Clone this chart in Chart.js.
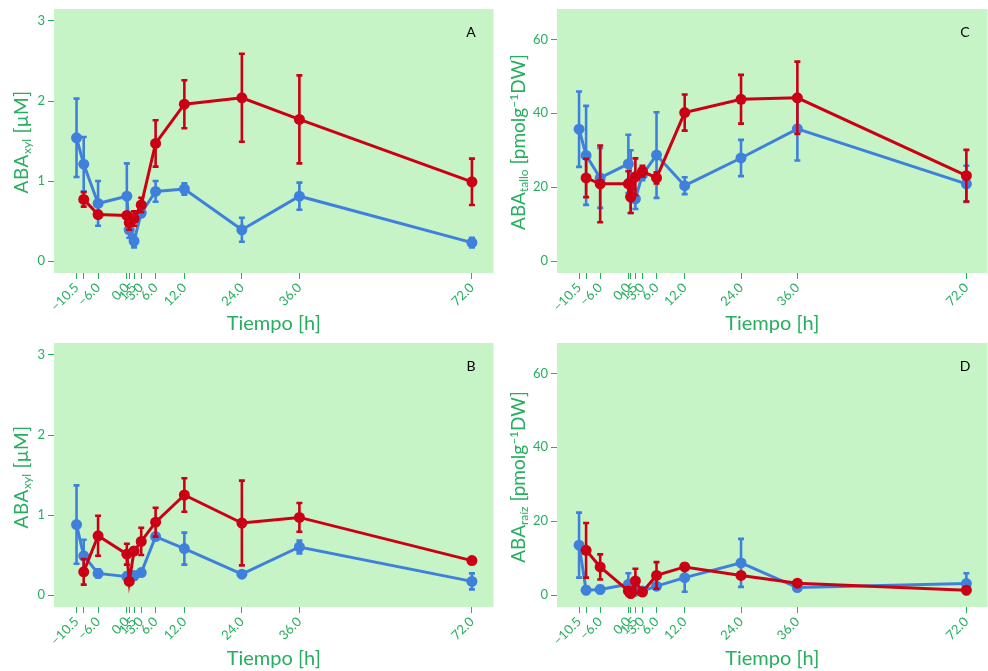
<!DOCTYPE html>
<html><head><meta charset="utf-8">
<script src="https://cdn.jsdelivr.net/npm/chart.js@4"></script>
<style>
html,body{margin:0;padding:0;background:#fff;width:988px;height:671px;overflow:hidden;font-family:Lato,sans-serif}
canvas{position:absolute}
.ytitle{position:absolute;transform:translate(-50%,-50%) rotate(-90deg);white-space:nowrap;color:#27ae60;font-size:19px;font-family:Lato,sans-serif;letter-spacing:0.6px}
.ytitle.dw{letter-spacing:0}
.ytitle sub{font-size:12px;vertical-align:-3px;letter-spacing:0}
.ytitle sup{font-size:12px;vertical-align:7px;letter-spacing:0}
.letter{position:absolute;font-size:14px;color:#000;transform:translate(-50%,-50%);font-family:Lato,sans-serif}
</style></head><body>
<canvas id="cA" width="499" height="336" style="left:0;top:0"></canvas>
<canvas id="cC" width="499" height="336" style="left:494px;top:0"></canvas>
<canvas id="cB" width="499" height="336" style="left:0;top:335px"></canvas>
<canvas id="cD" width="499" height="336" style="left:494px;top:335px"></canvas>
<div class="ytitle" style="left:21px;top:142px">ABA<sub>xyl</sub> [μM]</div>
<div class="ytitle dw" style="left:518px;top:142px">ABA<sub>tallo</sub> [pmolg<sup>−1</sup>DW]</div>
<div class="ytitle" style="left:21px;top:477px">ABA<sub>xyl</sub> [μM]</div>
<div class="ytitle dw" style="left:518px;top:477px">ABA<sub>raíz</sub> [pmolg<sup>−1</sup>DW]</div>
<div class="letter" style="left:471px;top:31px">A</div>
<div class="letter" style="left:965px;top:31px">C</div>
<div class="letter" style="left:471px;top:365px">B</div>
<div class="letter" style="left:965px;top:365px">D</div>
<script>
// ---- data ----
const times = [-10.5, -9, -6, 0, 0.5, 1.5, 3, 6, 12, 24, 36, 72];
const xTickLabels = ['−10.5', '', '−6.0', '0.0', '', '1.5', '3.0', '6.0', '12.0', '24.0', '36.0', '72.0'];
const yTicksXyl = [0, 1, 2, 3];
const yTicksDW = [0, 20, 40, 60];

// Panel A (ABA xyl)
const blueA    = [1.54, 1.21, 0.72, 0.81, 0.39, 0.25, 0.60, 0.87, 0.90, 0.39, 0.81, 0.23];
const blueAErr = [0.49, 0.34, 0.28, 0.41, 0.10, 0.08, 0.05, 0.13, 0.07, 0.15, 0.17, 0.06];
const redA     = [null, 0.77, 0.58, 0.57, 0.48, 0.53, 0.70, 1.47, 1.96, 2.04, 1.77, 0.99];
const redAErr  = [null, 0.09, 0.03, 0.03, 0.09, 0.09, 0.09, 0.29, 0.30, 0.55, 0.55, 0.29];

// Panel B (ABA xyl)
const blueB    = [0.88, 0.49, 0.27, 0.23, 0.22, 0.24, 0.28, 0.73, 0.58, 0.26, 0.60, 0.17];
const blueBErr = [0.49, 0.20, 0.05, 0.05, 0.05, 0.05, 0.03, 0.04, 0.20, 0.03, 0.08, 0.10];
const redB     = [null, 0.29, 0.74, 0.51, 0.17, 0.55, 0.67, 0.91, 1.25, 0.90, 0.97, 0.43];
const redBErr  = [null, 0.16, 0.25, 0.13, 0.02, 0.04, 0.17, 0.18, 0.21, 0.53, 0.18, 0.02];

// Panel C (ABA tallo)
const blueC    = [35.7, 28.6, 22.5, 26.3, 21.5, 16.8, 23.4, 28.7, 20.4, 27.9, 35.8, 20.9];
const blueCErr = [10.2, 13.4, 8.1, 7.9, 8.5, 2.7, 1.5, 11.6, 2.3, 4.9, 8.6, 4.9];
const redC     = [null, 22.5, 20.9, 20.9, 17.3, 22.8, 24.3, 22.5, 40.2, 43.8, 44.2, 23.1];
const redCErr  = [null, 5.2, 10.4, 3.4, 4.3, 5.0, 1.5, 1.5, 4.9, 6.6, 9.8, 7.0];

// Panel D (ABA raíz)
const blueD    = [13.5, 1.3, 1.5, 2.9, 1.5, 1.0, 1.1, 2.4, 4.7, 8.7, 2.0, 3.1];
const blueDErr = [8.8, 1.0, 1.0, 3.0, 1.0, 0.8, 0.6, 0.8, 3.8, 6.5, 0.6, 2.8];
const redD     = [null, 12.1, 7.6, 1.1, 0.4, 3.8, 0.8, 5.3, 7.6, 5.3, 3.2, 1.3];
const redDErr  = [null, 7.4, 3.4, 1.0, 0.5, 3.3, 0.5, 3.6, 0.5, 0.8, 0.5, 0.3];

// ---- styling ----
const GREEN = '#27ae60';
const BG = '#c7f4c7';
const BLUE = '#3f80dc';
const RED = '#cc0014';
Chart.defaults.font.family = 'Lato, sans-serif';

function pts(vals, errs) {
  const d = [], e = [];
  vals.forEach((v, i) => { if (v !== null) { d.push({x: times[i], y: v}); e.push(errs[i]); } });
  return {d, e};
}

const bgPlugin = {
  id: 'bg',
  beforeDraw(chart) {
    const a = chart.chartArea, ctx = chart.ctx;
    ctx.save(); ctx.fillStyle = BG; ctx.fillRect(a.left, a.top, a.right - a.left, a.bottom - a.top); ctx.restore();
  }
};
const errPlugin = {
  id: 'err',
  beforeDatasetDraw(chart, args) {
    const ds = chart.data.datasets[args.index];
    const ys = chart.scales.y, ctx = chart.ctx;
    ctx.save();
    ctx.strokeStyle = ds.borderColor; ctx.lineWidth = 2.6; ctx.lineCap = 'butt';
    ds.errs.forEach((e, i) => {
      const p = ds.data[i], el = args.meta.data[i];
      if (!e) return;
      const x = el.x, yt = ys.getPixelForValue(p.y + e), yb = ys.getPixelForValue(p.y - e);
      ctx.beginPath();
      ctx.moveTo(x, yt); ctx.lineTo(x, yb);
      ctx.moveTo(x - 3, yt); ctx.lineTo(x + 3, yt);
      ctx.moveTo(x - 3, yb); ctx.lineTo(x + 3, yb);
      ctx.stroke();
    });
    ctx.restore();
  }
};

function makeChart(id, blue, blueErr, red, redErr, yMin, yMax, yTicks, yW, padTop, xH) {
  const b = pts(blue, blueErr), r = pts(red, redErr);
  const series = (label, p, col, order) => ({
    label, data: p.d, errs: p.e, borderColor: col, backgroundColor: col,
    borderWidth: 3, pointRadius: 5.5, pointHoverRadius: 5.5, pointBorderWidth: 0,
    tension: 0, order, clip: false
  });
  new Chart(document.getElementById(id), {
    type: 'line',
    data: { datasets: [ series('Serie azul', b, BLUE, 2), series('Serie roja', r, RED, 1) ] },
    options: {
      responsive: false, animation: false, events: [],
      layout: { padding: { top: padTop, right: 1, left: 0, bottom: 0 } },
      plugins: { legend: { display: false }, tooltip: { enabled: false } },
      scales: {
        x: {
          type: 'linear', min: -15.2, max: 76.5,
          afterBuildTicks: s => { s.ticks = times.map(v => ({ value: v })); },
          ticks: {
            autoSkip: false, maxRotation: 45, minRotation: 45, color: GREEN, padding: 1,
            font: { size: 13 },
            callback: v => xTickLabels[times.indexOf(v)]
          },
          grid: { drawOnChartArea: false, drawTicks: true, tickLength: 6, color: GREEN, lineWidth: 1 },
          border: { display: false },
          title: { display: true, text: 'Tiempo [h]', color: GREEN, font: { size: 20 }, padding: { top: 0, bottom: 0 } },
          afterFit: s => { s.height = xH; s.paddingLeft = 0; s.paddingRight = 0; }
        },
        y: {
          type: 'linear', min: yMin, max: yMax,
          afterBuildTicks: s => { s.ticks = yTicks.map(v => ({ value: v })); },
          ticks: { color: GREEN, font: { size: 13 }, padding: 3 },
          grid: { drawOnChartArea: false, drawTicks: true, tickLength: 6, color: GREEN, lineWidth: 1 },
          border: { display: false },
          afterFit: s => { s.width = yW; s.paddingTop = 0; s.paddingBottom = 0; }
        }
      }
    },
    plugins: [bgPlugin, errPlugin]
  });
}

makeChart('cA', blueA, blueAErr, redA, redAErr, -0.15, 3.15, yTicksXyl, 54, 9, 63);
makeChart('cC', blueC, blueCErr, redC, redCErr, -3.25, 68.25, yTicksDW, 63, 9, 63);
makeChart('cB', blueB, blueBErr, redB, redBErr, -0.15, 3.15, yTicksXyl, 54, 8, 64);
makeChart('cD', blueD, blueDErr, redD, redDErr, -3.25, 68.25, yTicksDW, 63, 8, 64);
</script>
</body></html>
